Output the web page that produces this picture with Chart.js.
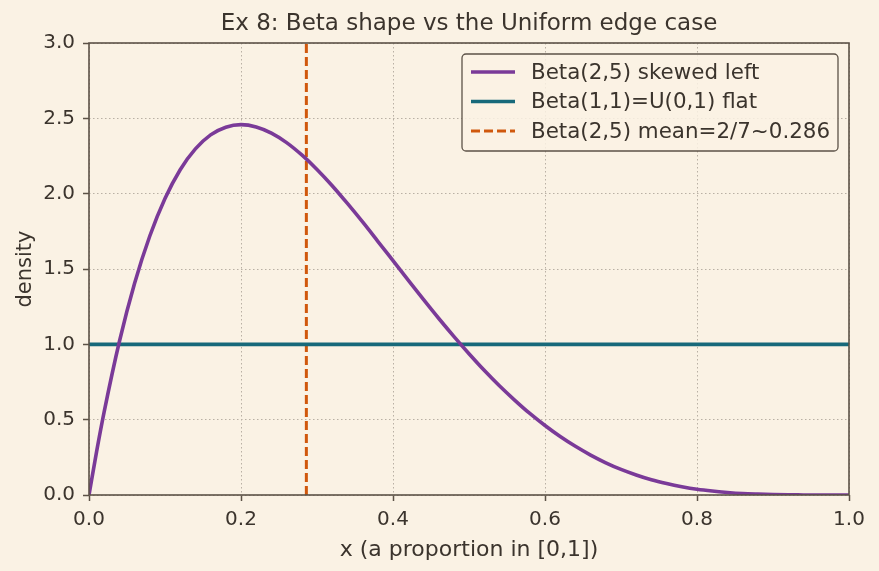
<!DOCTYPE html>
<html>
<head>
<meta charset="utf-8">
<script src="https://cdn.jsdelivr.net/npm/chart.js@4.4.0/dist/chart.umd.min.js"></script>
<style>
  html, body { margin: 0; padding: 0; background: #faf2e4; }
  #wrap { width: 879px; height: 571px; }
</style>
</head>
<body>
<div id="wrap"><canvas id="betaChart" width="879" height="571"></canvas></div>
<script>
// values
var xs = [0, 0.01, 0.02, 0.04, 0.06, 0.08, 0.10, 0.12, 0.14, 0.16, 0.18, 0.20, 0.22, 0.24,
          0.26, 0.28, 0.30, 0.32, 0.34, 0.36, 0.38, 0.40, 0.42, 0.44, 0.46, 0.48, 0.50,
          0.52, 0.54, 0.56, 0.58, 0.60, 0.62, 0.64, 0.66, 0.68, 0.70, 0.72, 0.74, 0.76,
          0.78, 0.80, 0.82, 0.84, 0.86, 0.88, 0.90, 0.92, 0.94, 0.96, 0.98, 1.0];
var betaY = [0, 0.288, 0.553, 1.019, 1.405, 1.719, 1.968, 2.159, 2.297, 2.390, 2.441, 2.458, 2.443, 2.402,
             2.339, 2.257, 2.161, 2.053, 1.935, 1.812, 1.684, 1.555, 1.426, 1.298, 1.173, 1.053, 0.938,
             0.828, 0.725, 0.630, 0.541, 0.461, 0.388, 0.323, 0.265, 0.214, 0.170, 0.133, 0.101, 0.076,
             0.055, 0.038, 0.026, 0.017, 0.010, 0.006, 0.003, 0.001, 0.0004, 0.0001, 0, 0];
var uniformX = [0, 1];
var uniformY = [1, 1];
var meanX = 0.286;
var meanY = [0, 3];
var xTicks = [0, 0.2, 0.4, 0.6, 0.8, 1.0];
var yTicks = [0, 0.5, 1.0, 1.5, 2.0, 2.5, 3.0];
var labels = ["Beta(2,5) skewed left", "Beta(1,1)=U(0,1) flat", "Beta(2,5) mean=2/7~0.286"];

var bg = "#faf2e4";
var ink = "#3b342d";
var spine = "#5c5247";
var gridCol = "#b9b0a4";
var colors = ["#7a3a98", "#17697a", "#d0580c"];
var font = "DejaVu Sans";

function pts(x, y) {
    var out = [];
    for (var i = 0; i < x.length; i++) out.push({x: x[i], y: y[i]});
    return out;
}

var framePlugin = {
    id: 'frame',
    beforeDraw: function(chart) {
        var ctx = chart.ctx;
        ctx.save();
        ctx.fillStyle = bg;
        ctx.fillRect(0, 0, chart.width, chart.height);
        ctx.fillStyle = ink;
        ctx.font = "23px '" + font + "'";
        ctx.textAlign = "center";
        ctx.textBaseline = "middle";
        var a = chart.chartArea;
        ctx.fillText("Ex 8: Beta shape vs the Uniform edge case", (a.left + a.right) / 2, 24);
        ctx.restore();
    },
    afterDraw: function(chart) {
        var ctx = chart.ctx;
        var a = chart.chartArea;
        ctx.save();
        // axes box
        ctx.strokeStyle = spine;
        ctx.lineWidth = 1.6;
        ctx.strokeRect(a.left, a.top, a.right - a.left, a.bottom - a.top);

        // legend
        var lx = 462, ly = 54, lw = 376, lh = 97;
        ctx.beginPath();
        ctx.roundRect(lx, ly, lw, lh, 4);
        ctx.fillStyle = "rgba(250,242,228,0.85)";
        ctx.fill();
        ctx.lineWidth = 1.3;
        ctx.strokeStyle = spine;
        ctx.stroke();
        ctx.font = "21.4px '" + font + "'";
        ctx.textAlign = "left";
        ctx.textBaseline = "middle";
        for (var i = 0; i < labels.length; i++) {
            var yy = ly + 18 + i * 29.5;
            ctx.beginPath();
            ctx.strokeStyle = colors[i];
            if (i === 2) { ctx.setLineDash([9, 4]); ctx.lineWidth = 3; } else { ctx.setLineDash([]); ctx.lineWidth = 3.6; }
            ctx.moveTo(471, yy);
            ctx.lineTo(515, yy);
            ctx.stroke();
            ctx.setLineDash([]);
            ctx.fillStyle = ink;
            ctx.fillText(labels[i], 531, yy + 1);
        }
        ctx.restore();
    }
};

var ctx = document.getElementById("betaChart").getContext('2d');
var chart = new Chart(ctx, {
    type: 'line',
    data: {
        datasets: [{
            label: labels[0],
            data: pts(xs, betaY),
            borderColor: colors[0],
            borderWidth: 3.6,
            pointRadius: 0,
            cubicInterpolationMode: 'monotone'
        }, {
            label: labels[1],
            data: pts(uniformX, uniformY),
            borderColor: colors[1],
            borderWidth: 3.6,
            pointRadius: 0
        }, {
            label: labels[2],
            data: pts([meanX, meanX], meanY),
            borderColor: colors[2],
            borderWidth: 3,
            borderDash: [9, 4],
            pointRadius: 0
        }]
    },
    options: {
        responsive: false,
        animation: false,
        layout: { padding: { top: 43, right: 30, left: 0, bottom: 0 } },
        plugins: { legend: { display: false }, tooltip: { enabled: false }, title: { display: false } },
        scales: {
            x: {
                type: 'linear', min: 0, max: 1,
                afterFit: function(s) { s.height = 76; },
                afterBuildTicks: function(s) { s.ticks = xTicks.map(function(v) { return {value: v}; }); },
                ticks: { color: ink, font: { family: font, size: 20 }, padding: 7,
                    callback: function(v) { return v.toFixed(1); } },
                grid: { color: gridCol, tickColor: spine, tickLength: 6, tickBorderDash: [], tickWidth: 1.5 },
                border: { display: false, dash: [1.5, 2.5] },
                title: { display: true, text: "x (a proportion in [0,1])", color: ink,
                    font: { family: font, size: 22 }, padding: { top: 4, bottom: 8 } }
            },
            y: {
                min: 0, max: 3,
                afterFit: function(s) { s.width = 89; },
                afterBuildTicks: function(s) { s.ticks = yTicks.map(function(v) { return {value: v}; }); },
                ticks: { color: ink, font: { family: font, size: 20 }, padding: 8,
                    callback: function(v) { return v.toFixed(1); } },
                grid: { color: gridCol, tickColor: spine, tickLength: 6, tickBorderDash: [], tickWidth: 1.5 },
                border: { display: false, dash: [1.5, 2.5] },
                title: { display: true, text: "density", color: ink,
                    font: { family: font, size: 21 }, padding: { top: 13, bottom: 4 } }
            }
        }
    },
    plugins: [framePlugin]
});
</script>
</body>
</html>
